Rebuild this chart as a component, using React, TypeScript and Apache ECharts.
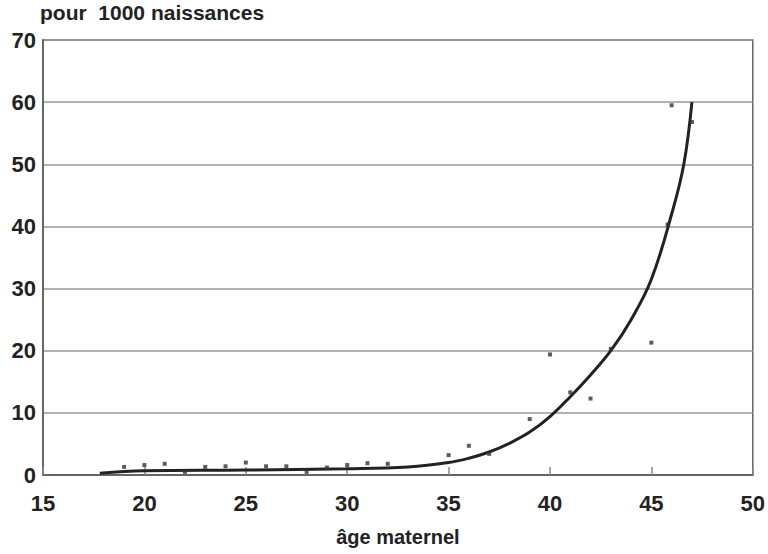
import React, { useEffect, useRef } from "react";
import * as echarts from "echarts";

const xTicks = [15, 20, 25, 30, 35, 40, 45, 50];
const yTicks = [0, 10, 20, 30, 40, 50, 60, 70];

const obsAges = [19, 20, 21, 22, 23, 24, 25, 26, 27, 28, 29, 30, 31, 32, 35, 36, 37, 39, 40, 41, 42, 43, 45, 45.8, 46, 47];
const obsRates = [1.3, 1.6, 1.8, 0.5, 1.3, 1.4, 2.0, 1.4, 1.4, 0.5, 1.2, 1.6, 1.9, 1.8, 3.2, 4.7, 3.4, 9.0, 19.4, 13.3, 12.3, 20.3, 21.3, 40.3, 59.5, 56.8];

const curveAges = [17.8, 20, 25, 30, 33, 35, 36, 37, 38, 39, 40, 41, 42, 43, 44, 45, 46, 46.6, 47];
const curveRates = [0.3, 0.7, 0.8, 1.0, 1.3, 2.0, 2.7, 3.7, 5.1, 6.9, 9.4, 12.6, 16.1, 20.0, 25.0, 31.5, 42.0, 50.0, 60.0];

export default function App() {
  const ref = useRef<HTMLDivElement>(null);
  useEffect(() => {
    if (!ref.current) return;
    const chart = echarts.init(ref.current, null, { renderer: "svg" });
    const font = "'Liberation Sans', Arial, Helvetica, sans-serif";
    chart.setOption({
      animation: false,
      backgroundColor: "#ffffff",
      title: {
        text: "pour  1000 naissances",
        left: 40,
        top: 2,
        padding: 0,
        textStyle: { fontFamily: font, fontSize: 21, fontWeight: "bold", color: "#222" },
      },
      grid: {
        left: 43,
        right: 15,
        top: 40,
        bottom: 79,
        show: true,
        borderColor: "#666",
        borderWidth: 1.5,
        backgroundColor: "transparent",
      },
      xAxis: {
        type: "value",
        min: 15,
        max: 50,
        interval: 5,
        name: "âge maternel",
        nameLocation: "middle",
        nameGap: 52,
        nameTextStyle: { fontFamily: font, fontSize: 20, fontWeight: "bold", color: "#222" },
        axisLine: { show: true, lineStyle: { color: "#666", width: 2 } },
        axisTick: { show: true, inside: true, length: 8, lineStyle: { color: "#888", width: 1.5 } },
        splitLine: { show: false },
        axisLabel: {
          margin: 17,
          fontFamily: font,
          fontSize: 22,
          fontWeight: "bold",
          color: "#222",
          formatter: (v: number) => (xTicks.includes(v) ? String(v) : ""),
        },
      },
      yAxis: {
        type: "value",
        min: 0,
        max: 70,
        interval: 10,
        axisLine: { show: true, lineStyle: { color: "#666", width: 2 } },
        axisTick: { show: false },
        splitLine: { show: true, lineStyle: { color: "#999", width: 1.5 } },
        axisLabel: {
          margin: 7,
          fontFamily: font,
          fontSize: 22,
          fontWeight: "bold",
          color: "#222",
          formatter: (v: number) => (yTicks.includes(v) ? String(v) : ""),
        },
      },
      series: [
        {
          type: "line",
          data: curveAges.map((a, i) => [a, curveRates[i]]),
          smooth: 0.4,
          showSymbol: false,
          lineStyle: { color: "#222", width: 3 },
          z: 3,
        },
        {
          type: "scatter",
          data: obsAges.map((a, i) => [a, obsRates[i]]),
          symbol: "rect",
          symbolSize: 4,
          itemStyle: { color: "#333" },
          z: 4,
        },
      ],
    });
    return () => chart.dispose();
  }, []);
  return <div ref={ref} style={{ position: "absolute", left: 0, top: 0, width: 768, height: 554 }} />;
}
